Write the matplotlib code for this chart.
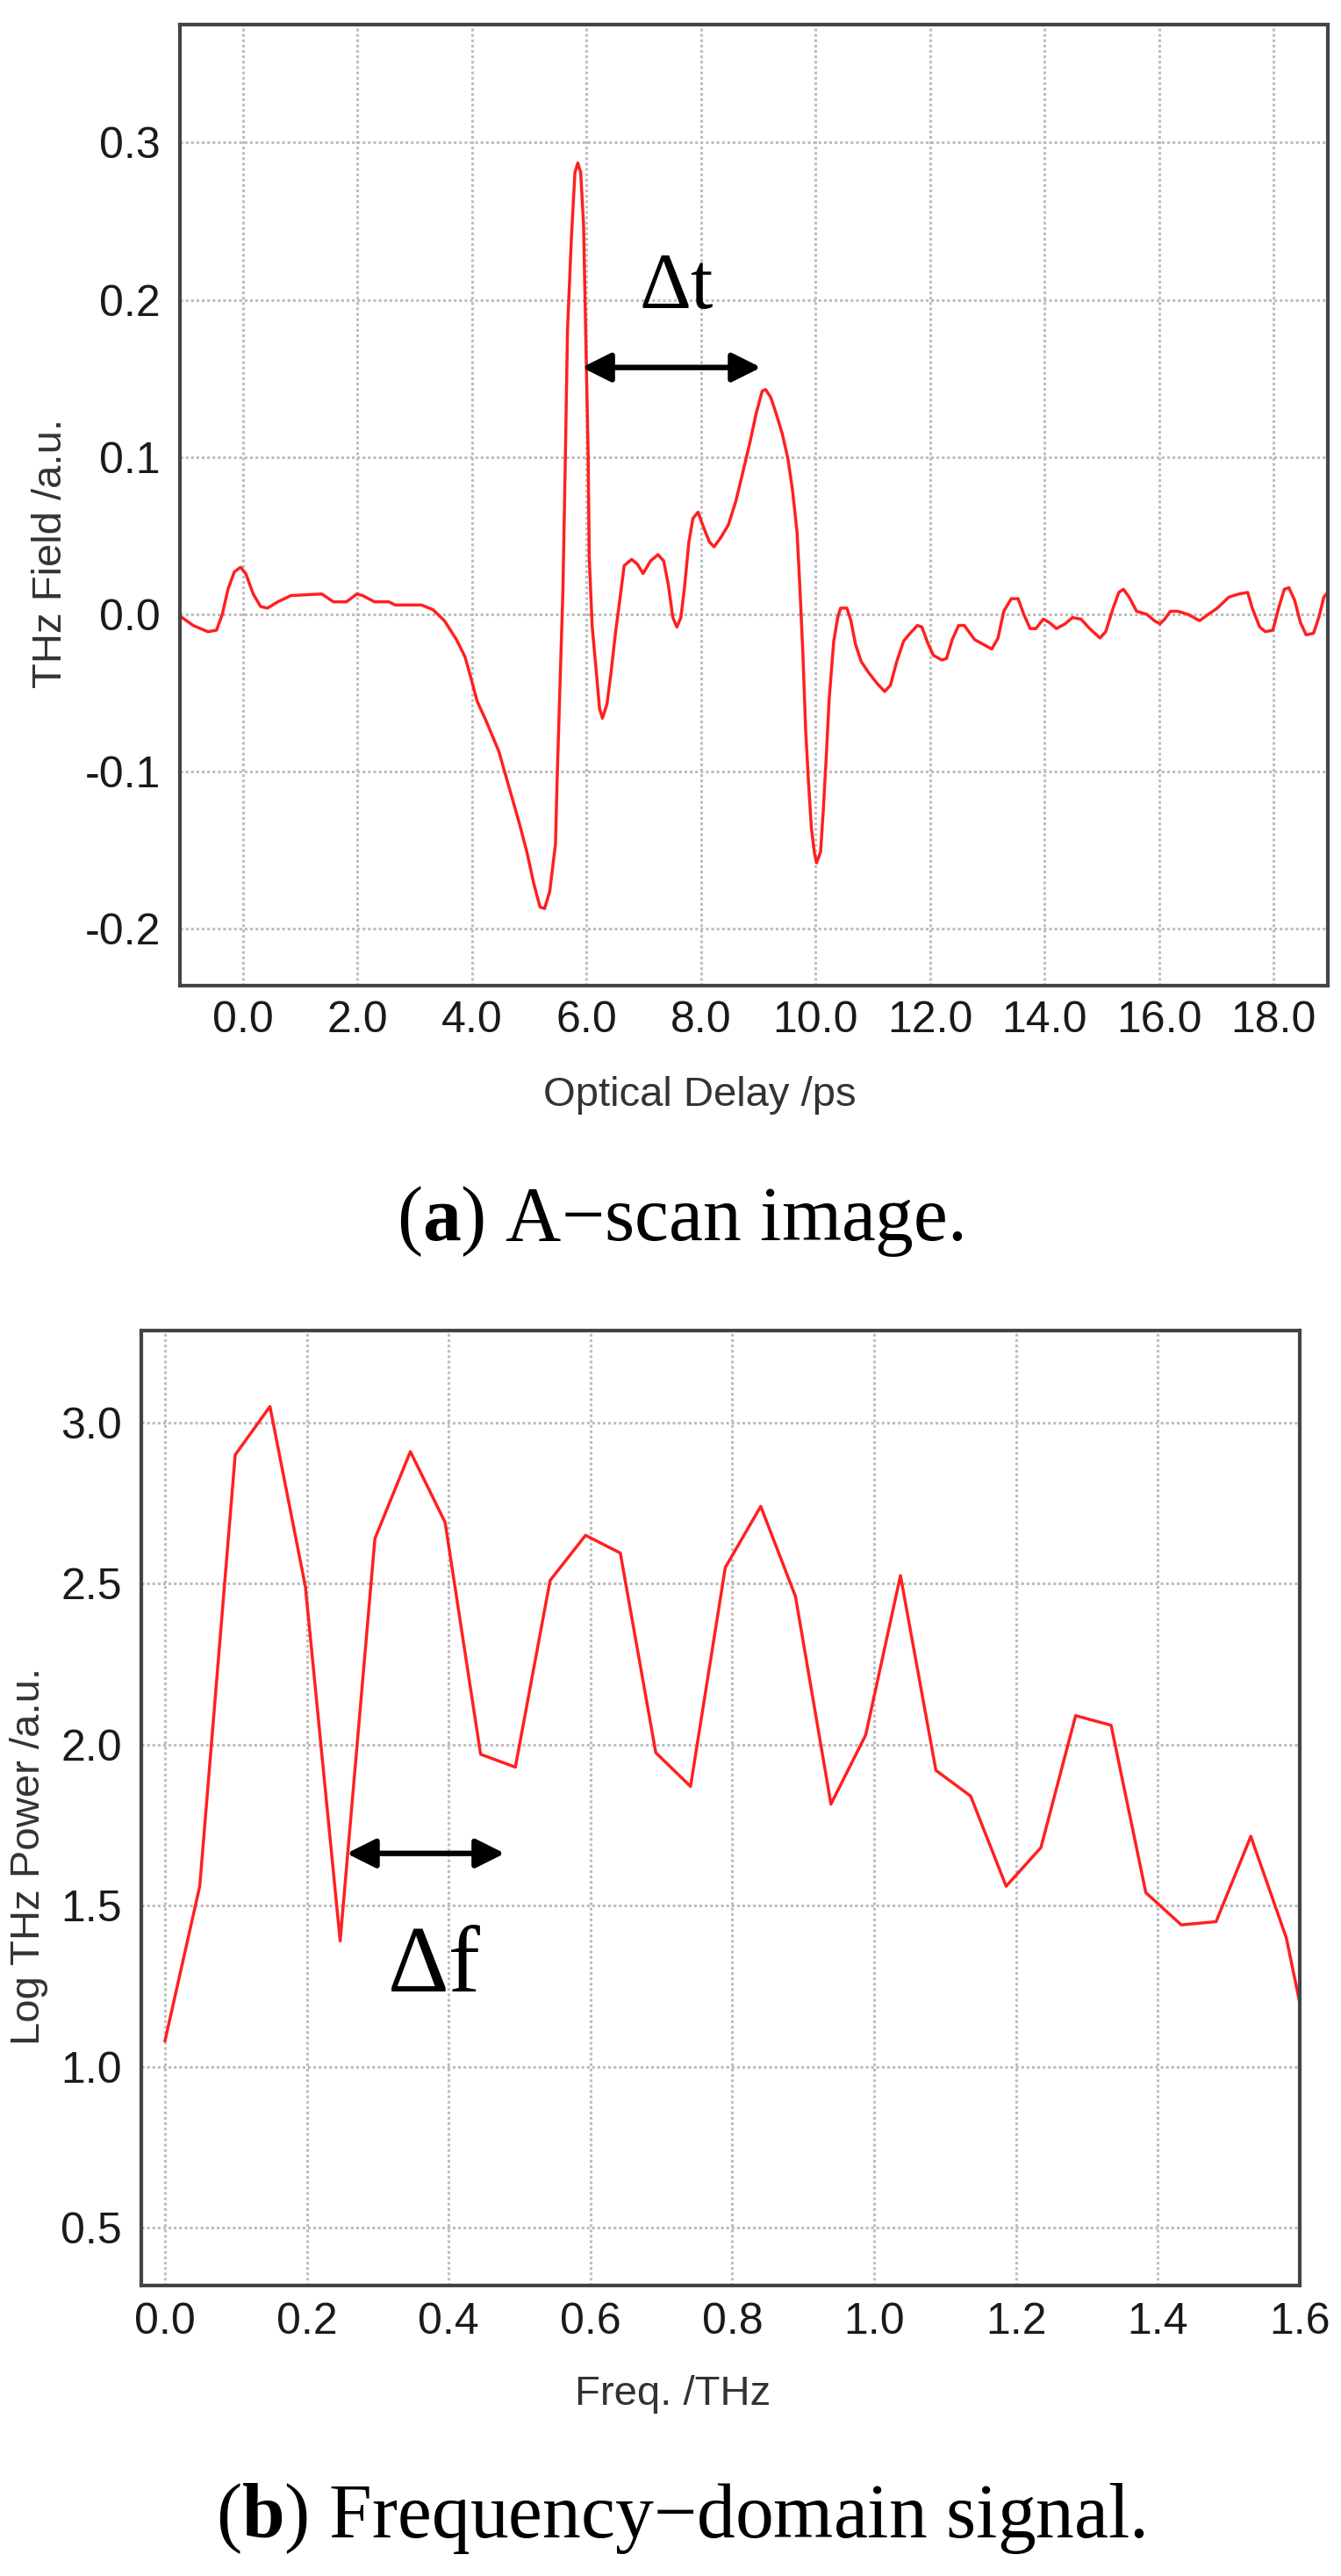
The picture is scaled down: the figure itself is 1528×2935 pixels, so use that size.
import matplotlib
matplotlib.use("Agg")
import matplotlib.pyplot as plt

plt.rcParams['font.family'] = ['Liberation Sans', 'DejaVu Sans']
plt.rcParams['mathtext.fontset'] = 'custom'
plt.rcParams['mathtext.rm'] = 'Liberation Serif'
plt.rcParams['mathtext.bf'] = 'Liberation Serif:bold'

# (a) time domain trace
delay_ps = [-1.10, -0.87, -0.61, -0.46, -0.36, -0.26, -0.15, -0.04, 0.05, 0.18,
            0.31, 0.43, 0.61, 0.84, 1.38, 1.58, 1.81, 1.99, 2.09, 2.30,
            2.55, 2.66, 3.12, 3.32, 3.52, 3.73, 3.88, 3.98, 4.09, 4.24,
            4.47, 4.65, 4.83, 4.96, 5.08, 5.19, 5.27, 5.36, 5.46, 5.49,
            5.54, 5.59, 5.63, 5.67, 5.74, 5.80, 5.85, 5.90, 5.95, 5.99,
            6.03, 6.05, 6.10, 6.18, 6.23, 6.28, 6.36, 6.43, 6.51, 6.59,
            6.66, 6.79, 6.89, 6.99, 7.12, 7.25, 7.35, 7.43, 7.51, 7.58,
            7.65, 7.71, 7.79, 7.86, 7.95, 8.04, 8.15, 8.23, 8.35, 8.48,
            8.61, 8.73, 8.86, 8.96, 9.07, 9.13, 9.22, 9.32, 9.42, 9.52,
            9.60, 9.68, 9.73, 9.78, 9.83, 9.88, 9.93, 9.98, 10.02, 10.09,
            10.14, 10.19, 10.24, 10.32, 10.39, 10.44, 10.55, 10.62, 10.70, 10.80,
            10.93, 11.08, 11.21, 11.31, 11.42, 11.54, 11.63, 11.78, 11.86, 11.96,
            12.06, 12.21, 12.29, 12.39, 12.50, 12.60, 12.78, 12.93, 13.08, 13.19,
            13.29, 13.42, 13.54, 13.64, 13.75, 13.85, 13.98, 14.08, 14.21, 14.36,
            14.49, 14.64, 14.79, 14.97, 15.07, 15.20, 15.30, 15.38, 15.48, 15.61,
            15.79, 15.92, 16.02, 16.10, 16.20, 16.33, 16.51, 16.71, 16.86, 17.02,
            17.22, 17.40, 17.55, 17.63, 17.76, 17.86, 17.99, 18.09, 18.19, 18.27,
            18.37, 18.47, 18.57, 18.70, 18.80, 18.88, 18.95]
field_au = [-0.001, -0.007, -0.011, -0.010, 0.000, 0.016, 0.027, 0.030, 0.026, 0.013,
            0.005, 0.004, 0.008, 0.012, 0.013, 0.008, 0.008, 0.013, 0.012, 0.008,
            0.008, 0.006, 0.006, 0.003, -0.004, -0.016, -0.027, -0.040, -0.055, -0.067,
            -0.087, -0.110, -0.133, -0.151, -0.171, -0.186, -0.187, -0.176, -0.146, -0.103,
            -0.044, 0.016, 0.095, 0.181, 0.241, 0.281, 0.287, 0.281, 0.248, 0.175,
            0.102, 0.036, -0.007, -0.040, -0.060, -0.066, -0.057, -0.037, -0.011, 0.011,
            0.031, 0.035, 0.032, 0.026, 0.034, 0.038, 0.034, 0.019, -0.002, -0.008,
            -0.002, 0.016, 0.046, 0.061, 0.065, 0.056, 0.046, 0.043, 0.049, 0.057,
            0.072, 0.090, 0.110, 0.127, 0.142, 0.143, 0.138, 0.127, 0.115, 0.099,
            0.079, 0.052, 0.016, -0.024, -0.074, -0.107, -0.136, -0.151, -0.158, -0.151,
            -0.123, -0.090, -0.054, -0.017, -0.002, 0.004, 0.004, -0.004, -0.019, -0.030,
            -0.037, -0.044, -0.049, -0.045, -0.030, -0.017, -0.013, -0.007, -0.008, -0.018,
            -0.026, -0.029, -0.028, -0.016, -0.007, -0.007, -0.016, -0.019, -0.022, -0.015,
            0.002, 0.010, 0.010, 0.000, -0.009, -0.009, -0.003, -0.005, -0.009, -0.006,
            -0.002, -0.003, -0.009, -0.015, -0.011, 0.004, 0.014, 0.016, 0.011, 0.002,
            0.000, -0.004, -0.006, -0.003, 0.002, 0.002, 0.000, -0.004, 0.000, 0.004,
            0.011, 0.013, 0.014, 0.004, -0.008, -0.011, -0.010, 0.004, 0.016, 0.017,
            0.009, -0.005, -0.013, -0.012, -0.001, 0.011, 0.014]

# (b) spectrum, one value per frequency bin
freq_thz = [0.000, 0.049, 0.099, 0.148, 0.198, 0.247, 0.296, 0.346, 0.395, 0.445,
            0.494, 0.543, 0.593, 0.642, 0.692, 0.741, 0.790, 0.840, 0.889, 0.939,
            0.988, 1.037, 1.087, 1.136, 1.186, 1.235, 1.284, 1.334, 1.383, 1.433,
            1.482, 1.531, 1.581, 1.630]
log_power = [1.08, 1.56, 2.90, 3.05, 2.49, 1.39, 2.64, 2.91, 2.69, 1.97,
             1.93, 2.51, 2.65, 2.595, 1.975, 1.87, 2.55, 2.74, 2.46, 1.815,
             2.03, 2.525, 1.92, 1.84, 1.56, 1.68, 2.09, 2.06, 1.54, 1.44,
             1.45, 1.715, 1.40, 0.88]

xticks_a = [0, 2, 4, 6, 8, 10, 12, 14, 16, 18]
yticks_a = [-0.2, -0.1, 0.0, 0.1, 0.2, 0.3]
xticks_b = [0.0, 0.2, 0.4, 0.6, 0.8, 1.0, 1.2, 1.4, 1.6]
yticks_b = [0.5, 1.0, 1.5, 2.0, 2.5, 3.0]

RED = '#ff2020'
FRAME = '#444444'
GRID = '#bdbdbd'
TICK_FS = 36
LABEL_FS = 34
SERIF = ['Liberation Serif', 'DejaVu Serif']


def styleAxes(ax, xticks, yticks, xfmt, yfmt, xpad, ypad):
    ax.set_xticks(xticks)
    ax.set_yticks(yticks)
    ax.set_xticklabels([xfmt % v for v in xticks])
    ax.set_yticklabels([yfmt % v for v in yticks])
    ax.tick_params(length=0, labelsize=TICK_FS, labelcolor='#1a1a1a')
    ax.tick_params(axis='x', pad=xpad)
    ax.tick_params(axis='y', pad=ypad)
    ax.grid(True, color=GRID, linestyle=(0, (1, 1)), linewidth=2.2)
    ax.set_axisbelow(True)
    for s in ax.spines.values():
        s.set_color(FRAME)
        s.set_linewidth(3.0)


def drawArrow(ax, x0, x1, y):
    ax.annotate('', xy=(x1, y), xytext=(x0, y),
                arrowprops=dict(arrowstyle='<|-|>,head_length=1.0,head_width=0.5',
                                color='black', lw=4.5, mutation_scale=20,
                                shrinkA=0, shrinkB=0))


fig = plt.figure(figsize=(15.28, 29.35), dpi=100)

# panel a
ax_a = fig.add_axes([0.13416, 0.61738, 0.85602, 0.37308])
ax_a.plot(delay_ps, field_au, color=RED, lw=2.5)
ax_a.set_xlim(-1.10, 18.95)
ax_a.set_ylim(-0.236, 0.375)
styleAxes(ax_a, xticks_a, yticks_a, '%.1f', '%.1f', 12, 16)
drawArrow(ax_a, 5.92, 9.05, 0.157)
ax_a.text(7.57, 0.1945, '\u0394t', family=SERIF, fontsize=66, ha='center', va='baseline')

fig.text(58 / 1528, 1 - 630 / 2935, 'THz Field /a.u.', rotation=90, fontsize=LABEL_FS,
         color='#333333', ha='center', va='center')
fig.text(797 / 1528, 1 - 1260 / 2935, 'Optical Delay /ps', fontsize=LABEL_FS,
         color='#333333', ha='center', va='baseline')
fig.text(775 / 1528, 1 - 1413 / 2935, '($\\mathbf{a}$) A\u2212scan image.', family=SERIF,
         fontsize=63, ha='center', va='baseline')

# panel b
ax_b = fig.add_axes([0.10537, 0.11278, 0.86387, 0.37070])
ax_b.plot(freq_thz, log_power, color=RED, lw=2.5)
ax_b.set_xlim(-0.0334, 1.6)
ax_b.set_ylim(0.32, 3.286)
styleAxes(ax_b, xticks_b, yticks_b, '%.1f', '%.1f', 14, 16)
drawArrow(ax_b, 0.256, 0.479, 1.662)
ax_b.text(0.38, 1.234, '\u0394f', family=SERIF, fontsize=78, ha='center', va='baseline')

fig.text(33 / 1528, 1 - 2115 / 2935, 'Log THz Power /a.u.', rotation=90, fontsize=LABEL_FS,
         color='#333333', ha='center', va='center')
fig.text(767 / 1528, 1 - 2740 / 2935, 'Freq. /THz', fontsize=LABEL_FS,
         color='#333333', ha='center', va='baseline')
fig.text(775 / 1528, 1 - 2891 / 2935, '($\\mathbf{b}$) Frequency\u2212domain signal.', family=SERIF,
         fontsize=63, ha='center', va='baseline')

fig.savefig('out.png', dpi=100, facecolor='white')
